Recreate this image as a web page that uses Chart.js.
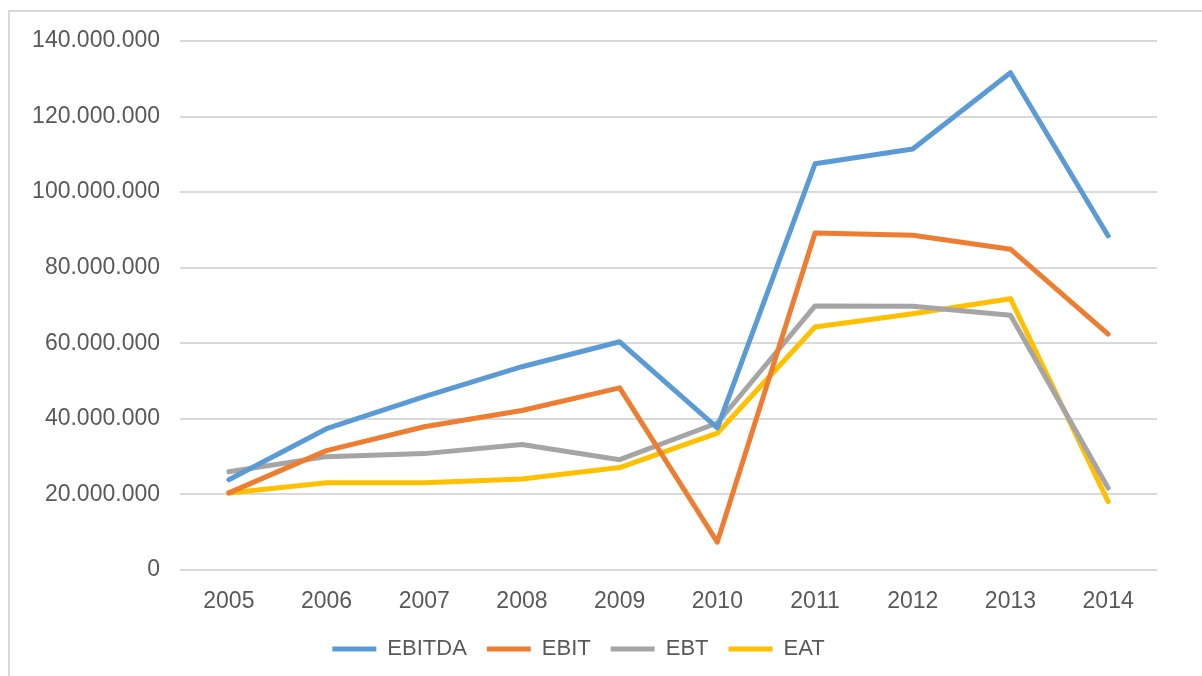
<!DOCTYPE html>
<html>
<head>
<meta charset="utf-8">
<script src="https://cdn.jsdelivr.net/npm/chart.js"></script>
<style>
  html, body { margin: 0; padding: 0; background: #fff; overflow: hidden; }
  #wrap { position: relative; width: 1202px; height: 676px; }
  #frame { position: absolute; left: 8px; top: 10px; width: 1210px; height: 700px; border: 2px solid #d9d9d9; box-sizing: border-box; }
  #cv { position: absolute; left: 0; top: 0; }
</style>
</head>
<body>
<div id="wrap">
  <div id="frame"></div>
  <canvas id="cv" width="1202" height="676"></canvas>
</div>
<script>
// values
const years = ['2005', '2006', '2007', '2008', '2009', '2010', '2011', '2012', '2013', '2014'];
const ebitda = [23900000, 37400000, 45900000, 53800000, 60400000, 37600000, 107500000, 111400000, 131600000, 88400000];
const ebit   = [20400000, 31600000, 37900000, 42200000, 48200000, 7400000, 89200000, 88600000, 84900000, 62400000];
const ebt    = [26000000, 30000000, 30800000, 33200000, 29200000, 38900000, 69900000, 69800000, 67400000, 21700000];
const eat    = [20400000, 23100000, 23100000, 24100000, 27100000, 36200000, 64300000, 67800000, 71800000, 18100000];

const yMax = 140000000;
const yStep = 20000000;

function dots(v) {
  return String(v).replace(/\B(?=(\d{3})+(?!\d))/g, '.');
}

function line(label, data, color) {
  return {
    label: label,
    data: data,
    borderColor: color,
    backgroundColor: color,
    borderWidth: 5,
    borderCapStyle: 'round',
    borderJoinStyle: 'round',
    pointRadius: 0,
    tension: 0
  };
}

new Chart(document.getElementById('cv'), {
  type: 'line',
  data: {
    labels: years,
    datasets: [
      line('EBITDA', ebitda, '#5b9bd5'),
      line('EBIT', ebit, '#ed7d31'),
      line('EBT', ebt, '#a5a5a5'),
      line('EAT', eat, '#ffc000')
    ]
  },
  options: {
    responsive: false,
    animation: false,
    layout: { padding: { top: 41, right: 45, bottom: 6, left: 0 } },
    plugins: {
      tooltip: { enabled: false },
      legend: {
        position: 'bottom',
        labels: {
          usePointStyle: true,
          pointStyle: 'line',
          pointStyleWidth: 44,
          padding: 20,
          color: '#595959',
          font: { family: '"Liberation Sans Narrow", "Liberation Sans", Arial, sans-serif', size: 22 }
        }
      }
    },
    scales: {
      x: {
        offset: true,
        grid: { display: false },
        border: { display: false },
        ticks: {
          color: '#595959',
          padding: 10,
          font: { family: '"Liberation Sans", Arial, sans-serif', size: 23 }
        },
        afterFit: s => { s.height = 48; }
      },
      y: {
        min: 0,
        max: yMax,
        grid: { color: '#d9d9d9', lineWidth: 2, drawTicks: false },
        border: { display: false },
        ticks: {
          stepSize: yStep,
          color: '#595959',
          padding: 20,
          font: { family: '"Liberation Sans", Arial, sans-serif', size: 23 },
          callback: v => dots(v)
        },
        afterFit: s => { s.width = 180; }
      }
    }
  }
});
</script>
</body>
</html>
